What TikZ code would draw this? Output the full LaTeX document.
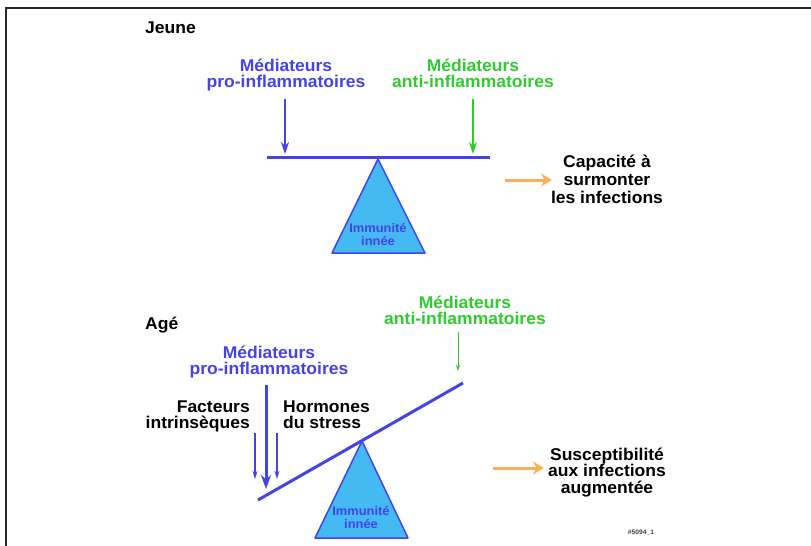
\documentclass[tikz,border=0pt]{standalone}
\usepackage{fontspec}
\setmainfont{Liberation Sans}[FakeStretch=1.03]
\usetikzlibrary{arrows.meta}

\definecolor{medblue}{HTML}{4343E6}
\definecolor{medgreen}{HTML}{2ECC2E}
\definecolor{triblue}{HTML}{45B9F2}
\definecolor{arrorange}{HTML}{F6B15C}

\begin{document}
\begin{tikzpicture}[
  x=1pt, y=-1pt,
  font=\bfseries\fontsize{17}{18}\selectfont,
  >={Stealth[length=12pt,width=8pt]},
  agelbl/.style={anchor=base west, inner sep=0pt},
  prolbl/.style={
    align=center, inner sep=0pt, anchor=base, text=medblue,
    font=\bfseries\fontsize{17}{16}\selectfont
  },
  antilbl/.style={prolbl, text=medgreen},
  outlbl/.style={
    align=center, inner sep=0pt, anchor=base,
    font=\bfseries\fontsize{17}{18}\selectfont
  },
  factlbl/.style={inner sep=0pt, font=\bfseries\fontsize{17}{16}\selectfont},
  beam/.style={draw=medblue, line width=3pt},
  fulcrum/.style={draw=medblue, line width=1.5pt, fill=triblue, line join=round},
  fullbl/.style={
    align=center, inner sep=0pt, anchor=base, text=medblue,
    font=\bfseries\fontsize{12.5}{12.5}\selectfont
  },
  proarr/.style={->, draw=medblue, line width=2.5pt},
  antiarr/.style={->, draw=medgreen, line width=2.5pt},
  thinarr/.style={-{Stealth[length=8pt,width=5pt]}, draw=medblue, line width=1.5pt},
  resarr/.style={-{Stealth[length=11pt,width=13pt]}, draw=arrorange, line width=3pt}
]
\useasboundingbox (0,0) rectangle (811,546);

% frame (left and top edges only)
\draw[line width=2.5pt, black!85] (6,546) -- (6,8) -- (811,8);

% =============================================================
% top: young -- balanced
% =============================================================
\node[agelbl] (jeune) at (145,33) {Jeune};

% base anchor = last line
\node[prolbl] (proY) at (286,87.5) {Médiateurs\\pro-inflammatoires};
\node[antilbl] (antiY) at (473,87.5) {Médiateurs\\anti-inflammatoires};

\coordinate (proYtop) at (285,99);
\coordinate (proYhit) at (285,154);
\coordinate (antiYtop) at (473,99);
\coordinate (antiYhit) at (473,154);

\draw[proarr] (proYtop) -- (proYhit);
\draw[antiarr] (antiYtop) -- (antiYhit);

% beam + fulcrum
\coordinate (beamYl) at (267,157.5);
\coordinate (beamYr) at (490,157.5);
\draw[beam] (beamYl) -- (beamYr);
\draw[fulcrum] (378,159) -- (425,253) -- (332,253) -- cycle;
\node[fullbl] (innY) at (378,245) {Immunité\\innée};

% outcome
\coordinate (resYa) at (505,180);
\coordinate (resYb) at (552,180);
\draw[resarr] (resYa) -- (resYb);
\node[outlbl] (capY) at (607,203) {Capacité à\\surmonter\\les infections};

% =============================================================
% bottom: aged -- tilted
% =============================================================
\node[agelbl] (age) at (145,329) {Agé};

\node[antilbl] (antiO) at (465,324) {Médiateurs\\anti-inflammatoires};
\node[prolbl] (proO) at (269,374) {Médiateurs\\pro-inflammatoires};

\node[factlbl, align=right, anchor=base east] (factO) at (250,428.5)
   {Facteurs\\intrinsèques};
\node[factlbl, align=left, anchor=base west] (hormO) at (283,428.5)
   {Hormones\\du stress};

\coordinate (antiOtop) at (458,332);
\coordinate (antiOhit) at (458,371);
\draw[-{Stealth[length=6pt,width=4pt]}, draw=medgreen, line width=1pt]
   (antiOtop) -- (antiOhit);

\coordinate (proOtop) at (266,385);
\coordinate (proOhit) at (266,489);
\draw[-{Stealth[length=14pt,width=10pt]}, draw=medblue, line width=3pt]
   (proOtop) -- (proOhit);

% intrinsic factors / stress hormones
\coordinate (factOtop) at (255,433);
\coordinate (factOhit) at (255,479);
\coordinate (hormOtop) at (277,433);
\coordinate (hormOhit) at (277,479);
\draw[thinarr] (factOtop) -- (factOhit);
\draw[thinarr] (hormOtop) -- (hormOhit);

% beam + fulcrum
\coordinate (beamOl) at (258,500);
\coordinate (beamOr) at (463,383);
\draw[beam] (beamOl) -- (beamOr);
\draw[fulcrum] (362,441) -- (408,538) -- (315,538) -- cycle;
\node[fullbl] (innO) at (361,528) {Immunité\\innée};

% outcome
\coordinate (resOa) at (493,468);
\coordinate (resOb) at (544,468);
\draw[resarr] (resOa) -- (resOb);
\node[outlbl, font=\bfseries\fontsize{17}{16.5}\selectfont] (suscO) at (607,493)
   {Susceptibilité\\aux infections\\augmentée};

\node[inner sep=0pt, text=black!75, font=\bfseries\fontsize{6.5}{7}\selectfont]
   (tag) at (641,533) {\#5094\_1};

\end{tikzpicture}
\end{document}
